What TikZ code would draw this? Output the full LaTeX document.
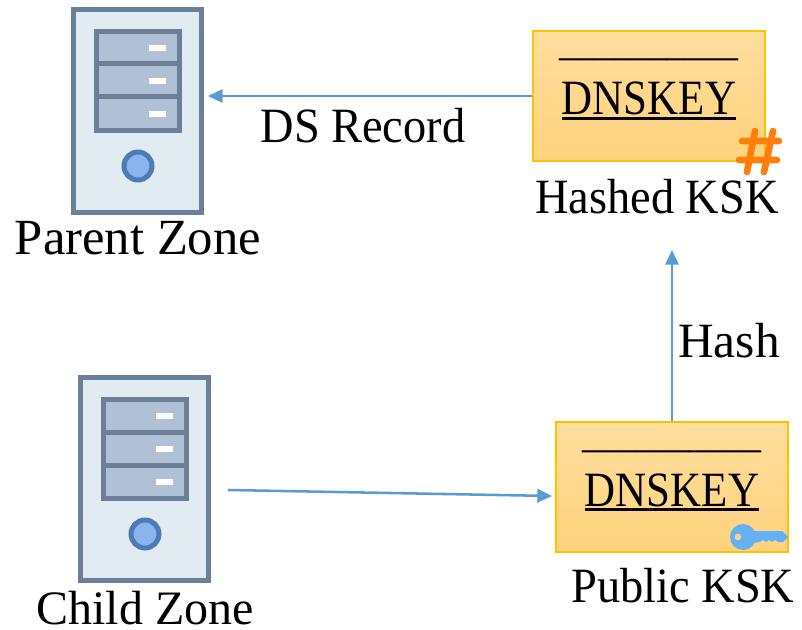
\documentclass[tikz,border=0pt]{standalone}
\usepackage{fontspec}
\setmainfont{Liberation Serif}
\newfontfamily\boxfont[FakeStretch=0.87]{Liberation Serif}
\newfontfamily\kskfont[FakeStretch=0.94]{Liberation Serif}
\usetikzlibrary{arrows.meta}
\definecolor{caseline}{HTML}{6B7F99}
\definecolor{casefill}{HTML}{E1EBF2}
\definecolor{drawerfill}{HTML}{B0C1D5}
\definecolor{knobline}{HTML}{4E7AB5}
\definecolor{knobfill}{HTML}{8AB4EE}
\definecolor{linkblue}{HTML}{5B9BD5}
\definecolor{hashorange}{HTML}{FF7F0A}
\definecolor{keyblue}{HTML}{63B0F5}
\definecolor{boxline}{HTML}{FFC000}
\definecolor{boxtop}{HTML}{FFDD9E}
\definecolor{boxbottom}{HTML}{FFD37D}
\tikzset{
  server/.pic = {
    \node[draw=caseline, fill=casefill, line width=3.75pt, minimum width=95.5pt, minimum height=152.5pt, inner sep=0pt] (-case) at (65.5,104) {};
    \node[draw=caseline, fill=drawerfill, line width=3.75pt, minimum width=62.5pt, minimum height=74.5pt, inner sep=0pt] (-rack) at (66,74) {};
    \foreach \ypos in {57,90} \draw[caseline, line width=3.75pt] (22,\ypos) -- (110,\ypos);
    \foreach \ypos in {41,74,107} \fill[white] (77,\ypos-3) rectangle (94,\ypos+3);
    \node[draw=knobline, fill=knobfill, line width=3.75pt, circle, minimum size=21pt, inner sep=0pt] (-knob) at (66,159) {};
  }
}
\begin{document}
\begin{tikzpicture}[x=0.75pt, y=-0.75pt, >={Triangle[length=11pt,width=10pt]},
    label/.style = {font=\fontsize{37pt}{40pt}\selectfont, inner sep=0pt, anchor=base},
    ksklabel/.style = {label, font=\kskfont\fontsize{37pt}{40pt}\selectfont},
    keybox/.style = {draw=boxline, line width=1pt, top color=boxtop, bottom color=boxbottom, minimum width=174pt, minimum height=97.5pt, inner sep=0pt},
    boxword/.style = {font=\boxfont\fontsize{37pt}{40pt}\selectfont, inner sep=0pt, anchor=base},
    boxrule/.style = {font=\boxfont\fontsize{31pt}{34pt}\selectfont, inner sep=0pt, anchor=base},
    underline/.style = {black, line width=1.9pt},
    link/.style = {linkblue, line width=1.9pt, ->}]
    \useasboundingbox (0,0) rectangle (802,630);
    \pic (parent) at (72,7) {server};
    \pic (child) at (79,375) {server};
    \node[keybox] (hashed) at (649,96) {};
    \node[keybox] (public) at (672,487) {};
    \node[boxrule] (hashedrule) at (649,56) {\_\_\_\_\_\_\_\_\_\_};
    \node[boxword] (hashedword) at (649,115) {DNSKEY};
    \node[boxrule] (publicrule) at (672,447) {\_\_\_\_\_\_\_\_\_\_};
    \node[boxword] (publicword) at (672,506) {DNSKEY};
    \draw[underline] ([yshift=-2.6pt]hashedword.base west) -- ([yshift=-2.6pt]hashedword.base east);
    \draw[underline] ([yshift=-2.6pt]publicword.base west) -- ([yshift=-2.6pt]publicword.base east);
    \node[label, font=\fontsize{38pt}{40pt}\selectfont] (parentlabel) at (138,255) {Parent Zone};
    \node[label, font=\fontsize{36pt}{40pt}\selectfont] (childlabel) at (145,624) {Child Zone};
    \node[ksklabel] (dslabel) at (363,143) {DS Record};
    \node[ksklabel] (hashedlabel) at (657,214) {Hashed KSK};
    \node[ksklabel] (publiclabel) at (683,602) {Public KSK};
    \node[label] (hashlabel) at (729,358) {Hash};
    \coordinate (dsend) at (208,96);
    \coordinate (childstart) at (228,490);
    \coordinate (childend) at (552,496);
    \coordinate (hashend) at (672,250);
    \draw[link] (hashed.west) -- (dsend);
    \draw[link] (public.north) -- (hashend);
    \draw[link] (childstart) -- (childend);
    % hash mark
    \draw[hashorange, line width=5pt, line cap=round]
        (755,131) -- (747,172) (773,131) -- (764,172)
        (742,141) -- (779,141) (739,160) -- (777,160);
    % key
    \fill[keyblue, even odd rule] (743,537) circle (13) (738,537) circle (3.5);
    \fill[keyblue] (752,531) -- (782,531) -- (788,537) -- (783,542) -- (778,542) -- (775,540) -- (772,542) -- (769,540) -- (766,542) -- (763,540) -- (760,542) -- (752,543) -- cycle;
\end{tikzpicture}
\end{document}
